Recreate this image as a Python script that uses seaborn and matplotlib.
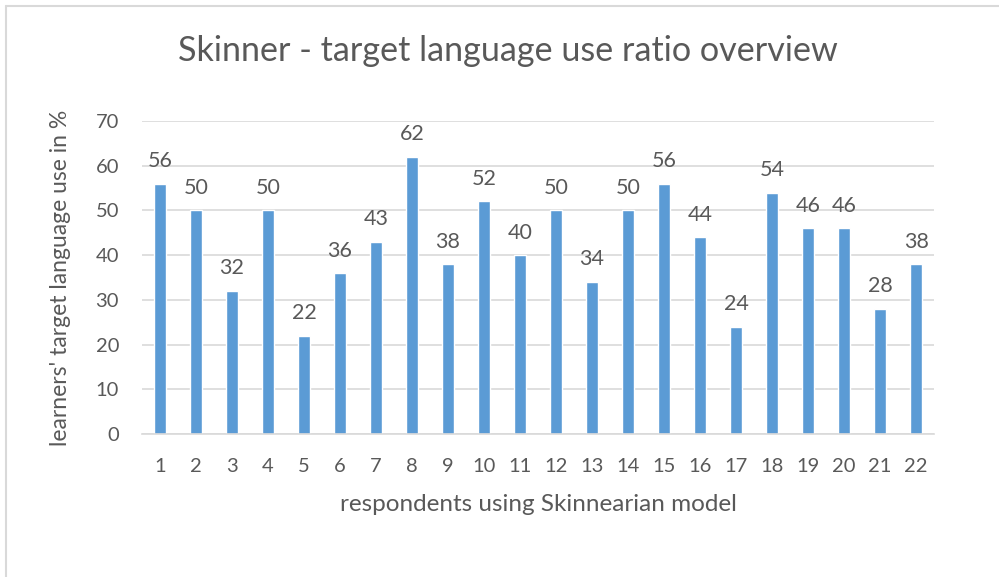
import matplotlib
matplotlib.use("Agg")
import matplotlib.pyplot as plt
import seaborn as sns
import pandas as pd
from matplotlib.lines import Line2D

respondents = [str(i) for i in range(1, 23)]
usage = [56, 50, 32, 50, 22, 36, 43, 62, 38, 52, 40, 50, 34, 50, 56, 44, 24, 54, 46, 46, 28, 38]
y_ticks = [0, 10, 20, 30, 40, 50, 60, 70]

sns.set_theme(style="white")
plt.rcParams['font.family'] = ['Lato', 'DejaVu Sans']

df = pd.DataFrame({"respondent": respondents, "usage": usage})

fig = plt.figure(figsize=(9.99, 5.77), dpi=100)
ax = fig.add_axes([0.1421, 0.2478, 0.935 - 0.1421, 0.7903 - 0.2478])

sns.barplot(data=df, x="respondent", y="usage", color="#5B9BD5", saturation=1,
            width=0.33, ax=ax, order=respondents)

txt = "#595959"
ax.set_ylim(0, 70)
ax.set_xlim(-0.5, 21.5)
ax.set_yticks(y_ticks)
ax.set_yticklabels([str(t) for t in y_ticks])
ax.tick_params(axis='both', labelsize=14.5, colors=txt, length=0)
ax.tick_params(axis='y', pad=16.5)
ax.tick_params(axis='x', pad=17)
ax.yaxis.grid(True, color="#D9D9D9", linewidth=1.2)
ax.set_axisbelow(True)
for s in ["top", "right", "left"]:
    ax.spines[s].set_visible(False)
ax.spines["bottom"].set_color("#D9D9D9")
ax.spines["bottom"].set_linewidth(1.2)

for c in ax.containers:
    ax.bar_label(c, labels=[str(v) for v in usage], padding=9, fontsize=15.5, color=txt)

ax.set_xlabel("respondents using Skinnearian model", fontsize=17.5, color=txt, labelpad=14)
ax.set_ylabel("learners' target language use in %", fontsize=16.5, color=txt, labelpad=18)
fig.suptitle("Skinner - target language use ratio overview", fontsize=24.6, color=txt,
             x=0.508, y=0.94)

# outer frame (left & top edges visible)
fig.add_artist(Line2D([0.006, 0.006], [0.0, 0.99], color="#D9D9D9", lw=1.5))
fig.add_artist(Line2D([0.006, 1.0], [0.99, 0.99], color="#D9D9D9", lw=1.5))

fig.savefig("out.png", dpi=100)
